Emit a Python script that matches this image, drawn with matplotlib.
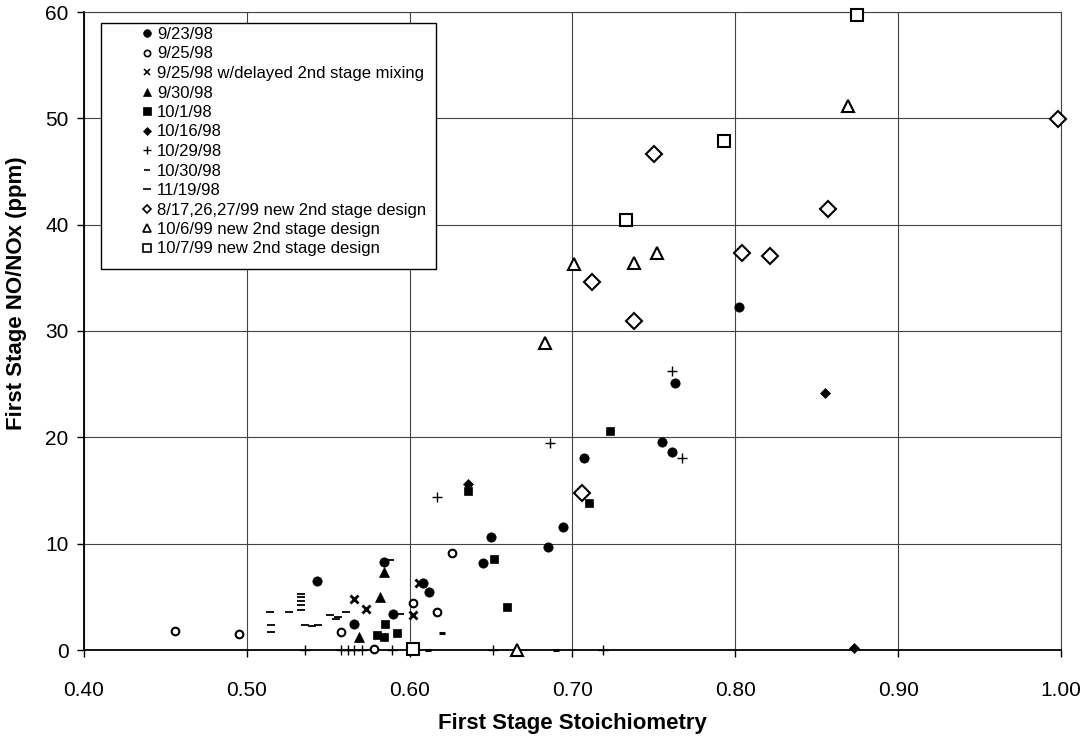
import matplotlib
matplotlib.use("Agg")
import matplotlib.pyplot as plt
from matplotlib.lines import Line2D
from matplotlib.patches import Rectangle

plt.rcParams['font.family'] = ['Liberation Sans', 'DejaVu Sans']

# values
x_ticks = [0.40, 0.50, 0.60, 0.70, 0.80, 0.90, 1.00]
x_tick_labels = ["0.40", "0.50", "0.60", "0.70", "0.80", "0.90", "1.00"]
y_ticks = [0, 10, 20, 30, 40, 50, 60]

s0923_x = [0.543, 0.566, 0.584, 0.590, 0.608, 0.612, 0.645, 0.650, 0.685, 0.694, 0.707, 0.755, 0.761, 0.763, 0.802]
s0923_y = [6.5, 2.4, 8.3, 3.4, 6.3, 5.5, 8.2, 10.6, 9.7, 11.6, 18.1, 19.6, 18.6, 25.1, 32.3]

s0925_x = [0.456, 0.495, 0.558, 0.578, 0.602, 0.617, 0.626]
s0925_y = [1.8, 1.5, 1.7, 0.1, 4.4, 3.6, 9.1]

s0925d_x = [0.566, 0.573, 0.602, 0.606]
s0925d_y = [4.8, 3.9, 3.3, 6.3]

s0930_x = [0.569, 0.582, 0.584]
s0930_y = [1.2, 5.0, 7.3]

s1001_x = [0.580, 0.584, 0.585, 0.592, 0.636, 0.652, 0.660, 0.710, 0.723]
s1001_y = [1.4, 1.2, 2.4, 1.6, 15.0, 8.6, 4.0, 13.8, 20.6]

s1016_x = [0.636, 0.855, 0.873]
s1016_y = [15.6, 24.2, 0.2]

s1029_x = [0.536, 0.558, 0.562, 0.566, 0.571, 0.589, 0.617, 0.651, 0.686, 0.719, 0.761, 0.767]
s1029_y = [0, 0, 0, 0, 0, 0, 14.4, 0, 19.5, 0, 26.2, 18.1]

s1030_x = [0.611, 0.620, 0.690]
s1030_y = [0.0, 1.6, 0.0]

s1119_x = [0.514, 0.515, 0.515, 0.526, 0.533, 0.533, 0.533, 0.533, 0.533,
           0.536, 0.540, 0.544, 0.551, 0.555, 0.556, 0.561, 0.588, 0.594]
s1119_y = [3.6, 2.35, 1.7, 3.6, 5.3, 5.0, 4.6, 4.2, 3.8,
           2.35, 2.25, 2.35, 3.3, 2.9, 3.1, 3.6, 8.5, 3.4]

s99a_x = [0.706, 0.712, 0.738, 0.750, 0.804, 0.821, 0.857, 0.998]
s99a_y = [14.8, 34.6, 30.9, 46.6, 37.3, 37.1, 41.5, 49.9]

s99b_x = [0.666, 0.683, 0.701, 0.738, 0.752, 0.869]
s99b_y = [0.0, 28.9, 36.3, 36.4, 37.3, 51.2]

s99c_x = [0.602, 0.733, 0.793, 0.875]
s99c_y = [0.1, 40.4, 47.9, 59.7]

labels = ["9/23/98", "9/25/98", "9/25/98 w/delayed 2nd stage mixing", "9/30/98",
          "10/1/98", "10/16/98", "10/29/98", "10/30/98", "11/19/98",
          "8/17,26,27/99 new 2nd stage design", "10/6/99 new 2nd stage design",
          "10/7/99 new 2nd stage design"]

series = [(s0923_x, s0923_y), (s0925_x, s0925_y), (s0925d_x, s0925d_y), (s0930_x, s0930_y),
          (s1001_x, s1001_y), (s1016_x, s1016_y), (s1029_x, s1029_y), (s1030_x, s1030_y),
          (s1119_x, s1119_y), (s99a_x, s99a_y), (s99b_x, s99b_y), (s99c_x, s99c_y)]

# marker, size, face, edge width for the plotted points
styles = [
    dict(marker='o', ms=6.7, mfc='k', mew=0.5),
    dict(marker='o', ms=5.5, mfc='white', mew=1.5),
    dict(marker='x', ms=6.0, mfc='k', mew=2.0),
    dict(marker='^', ms=6.5, mfc='k', mew=0.5),
    dict(marker='s', ms=6.3, mfc='k', mew=0.5),
    dict(marker='D', ms=4.6, mfc='k', mew=0.5),
    dict(marker='+', ms=7.0, mfc='k', mew=1.0),
    dict(marker='_', ms=4.5, mfc='k', mew=2.2),
    dict(marker='_', ms=6.0, mfc='k', mew=1.3),
    dict(marker='D', ms=8.4, mfc='white', mew=1.5),
    dict(marker='^', ms=9.0, mfc='white', mew=1.5),
    dict(marker='s', ms=8.0, mfc='white', mew=1.5),
]
leg_ms = [5.5, 4.5, 5.0, 5.5, 5.5, 4.0, 5.5, 4.0, 5.5, 4.3, 6.0, 6.0]

W, H = 1089, 742
fig = plt.figure(figsize=(W / 100, H / 100), dpi=100)
ax = fig.add_axes([84 / W, 1 - 650 / H, 977 / W, 638 / H])

for (xs, ys), st in zip(series, styles):
    ax.plot(xs, ys, linestyle='none', color='k', mec='k', clip_on=False, zorder=3, **st)

ax.set_xlim(0.40, 1.00)
ax.set_ylim(0, 60)
ax.set_xticks(x_ticks)
ax.set_xticklabels(x_tick_labels)
ax.set_yticks(y_ticks)
ax.tick_params(axis='x', labelsize=15, direction='out', length=5, pad=17, width=1)
ax.tick_params(axis='y', labelsize=15, direction='out', length=5, pad=6, width=1)
ax.grid(True, color='#444444', lw=0.8)
ax.set_axisbelow(True)
for side in ['top', 'right']:
    ax.spines[side].set_color('#444444')
    ax.spines[side].set_linewidth(0.8)
for side in ['left', 'bottom']:
    ax.spines[side].set_linewidth(1.3)

ax.set_xlabel("First Stage Stoichiometry", fontsize=16, fontweight='bold', labelpad=10)
ax.set_ylabel("First Stage NO/NOx (ppm)", fontsize=16, fontweight='bold')
ax.yaxis.set_label_coords(-0.058, 0.56)

handles = []
for st, ms in zip(styles, leg_ms):
    h = Line2D([], [], linestyle='none', color='k', mec='k', **dict(st, ms=ms, mew=min(st['mew'], 1.2)))
    handles.append(h)

leg = fig.legend(handles, labels, loc='upper left', bbox_to_anchor=(140.5 / W, 1 - 27 / H),
                 bbox_transform=fig.transFigure, frameon=False, fontsize=12,
                 handlelength=0.8, handletextpad=0.2, labelspacing=0.27,
                 borderpad=0, borderaxespad=0)
leg.set_zorder(5)

fig.canvas.draw()
bb = leg.get_window_extent(fig.canvas.get_renderer())
left, top, bottom = 101, 22.7, 269
right = bb.x1 + 10
box = Rectangle((left / W, 1 - bottom / H), (right - left) / W, (bottom - top) / H,
                transform=fig.transFigure, facecolor='white', edgecolor='k', lw=1.0, zorder=4)
fig.add_artist(box)

fig.savefig("out.png", dpi=100)
